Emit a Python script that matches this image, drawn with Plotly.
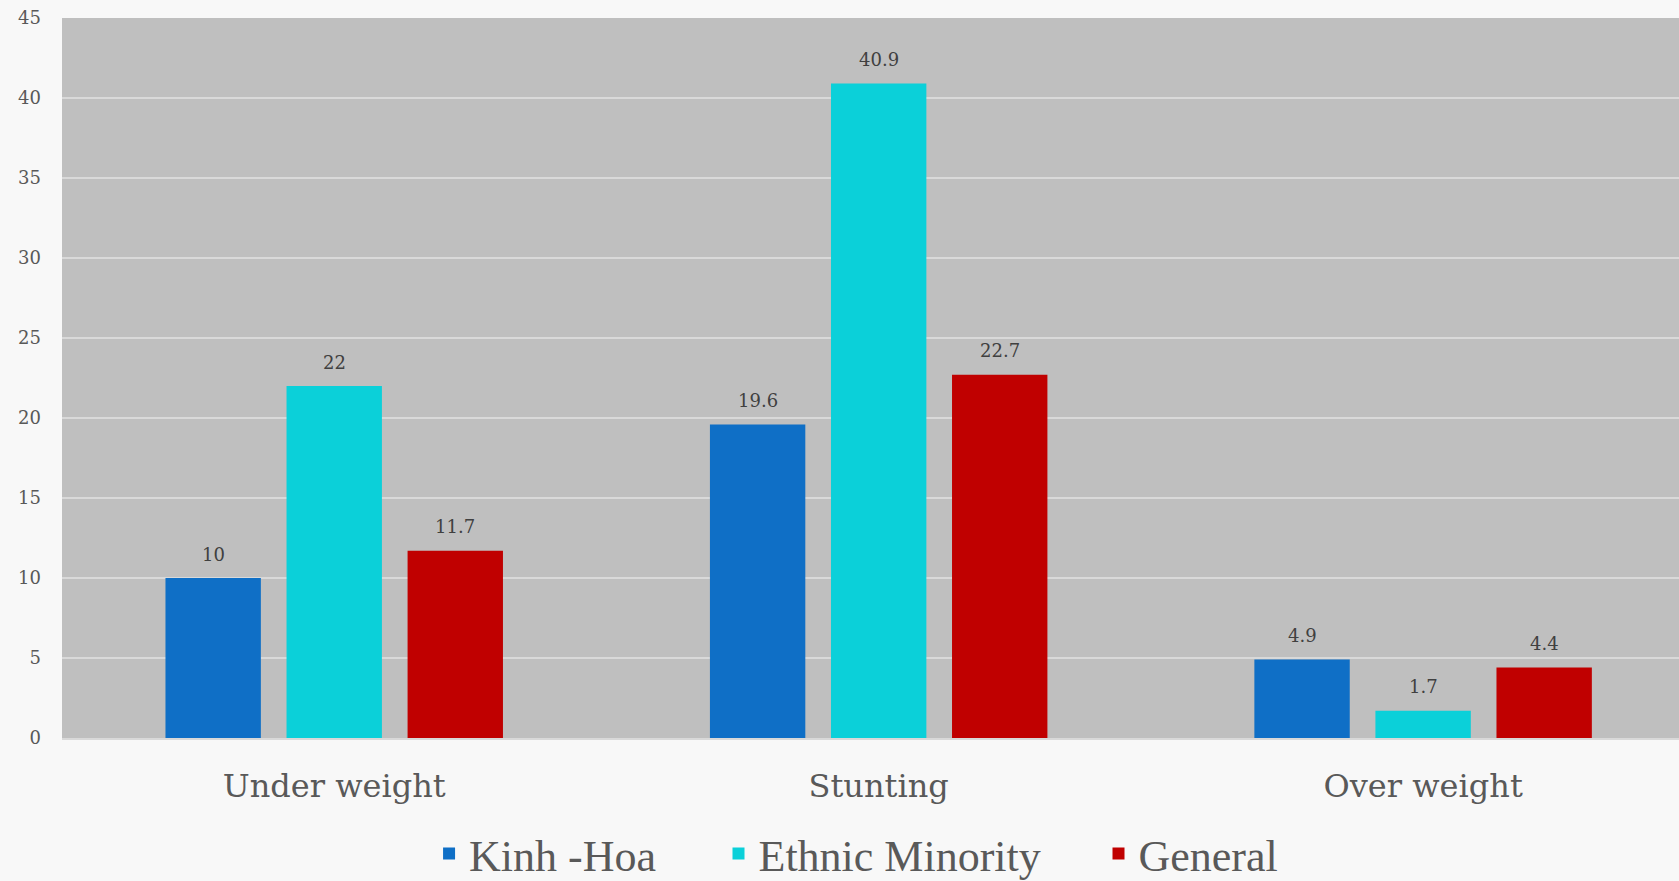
import plotly.graph_objects as go

categories = ["Under weight", "Stunting", "Over weight"]
kinh_hoa = [10, 19.6, 4.9]
ethnic_minority = [22, 40.9, 1.7]
general = [11.7, 22.7, 4.4]
series_names = ["Kinh -Hoa", "Ethnic Minority", "General"]
colors = ["#0F6FC6", "#0BD0D9", "#C00000"]
legend_x = [0.227, 0.406, 0.641]

font_family = "DejaVu Serif"
BARGAP = 0.333
GROUPGAP = 0.212

W, H = 1679, 881
ML, MR, MT, MB = 62, 0, 18, 143
x_range = [-0.5, 2.47]

fig = go.Figure()
all_series = [kinh_hoa, ethnic_minority, general]
legend_ids = ["legend", "legend2", "legend3"]
for name, vals, col, lg in zip(series_names, all_series, colors, legend_ids):
    fig.add_trace(go.Bar(
        x=categories, y=vals, name=name, marker_color=col,
        marker_line_width=0, legend=lg,
    ))

# value labels placed above each bar, offset horizontally to match grouped bar slots
px_per_cat = (W - ML - MR) / (x_range[1] - x_range[0])
slot_px = px_per_cat * (1 - BARGAP) / len(all_series)
for i, vals in enumerate(all_series):
    for cat, v in zip(categories, vals):
        fig.add_annotation(
            x=cat, y=v, xref="x", yref="y", text=f"{v:g}", showarrow=False,
            xshift=(i - (len(all_series) - 1) / 2) * slot_px, yshift=24,
            yanchor="middle", xanchor="center",
            font=dict(family=font_family, size=18, color="#404040"),
        )

legend_style = dict(
    orientation="h", xanchor="left", y=-0.161, yanchor="middle",
    font=dict(family="Liberation Serif", size=44, color="#595959"),
    bgcolor="rgba(0,0,0,0)", itemsizing="constant",
)

fig.update_layout(
    width=W, height=H,
    margin=dict(l=ML, r=MR, t=MT, b=MB, autoexpand=False),
    paper_bgcolor="#F8F8F8",
    plot_bgcolor="#BFBFBF",
    barmode="group",
    bargap=BARGAP,
    bargroupgap=GROUPGAP,
    font=dict(family=font_family, color="#595959"),
    showlegend=True,
    legend=dict(x=legend_x[0], **legend_style),
    legend2=dict(x=legend_x[1], **legend_style),
    legend3=dict(x=legend_x[2], **legend_style),
    xaxis=dict(
        range=x_range,
        tickfont=dict(family=font_family, size=32, color="#595959"),
        showgrid=False, showline=True, linecolor="#D9D9D9", linewidth=2,
        ticks="", ticklabelstandoff=19,
    ),
    yaxis=dict(
        range=[0, 45], dtick=5, tick0=0,
        tickfont=dict(family=font_family, size=18, color="#595959"),
        showgrid=True, gridcolor="#D9D9D9", gridwidth=2,
        zeroline=False, showline=False, ticks="", ticklabelstandoff=20,
    ),
)

fig.write_html("out.html")
